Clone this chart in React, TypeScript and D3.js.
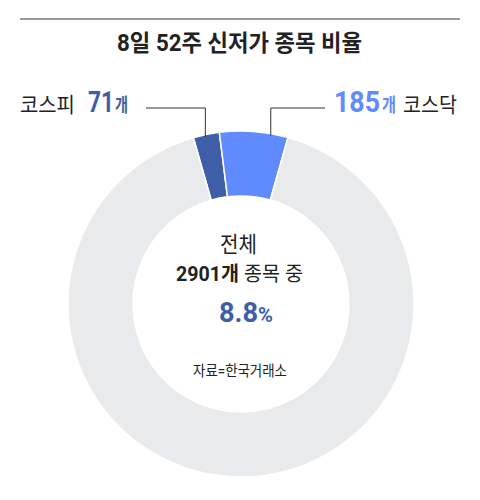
import React, { useLayoutEffect, useRef } from 'react';
import * as d3 from 'd3';

// 8일 52주 신저가 종목 (한국거래소)
const markets = ['코스피', '코스닥', '기타'];
const counts = [71, 185, 2645];
const colors = ['#3f5ea8', '#5f8bff', '#e8eaeb'];
const total = 2901;
const shareText = '8.8';
const title = '8일 52주 신저가 종목 비율';
const source = '자료=한국거래소';

const width = 480;
const height = 500;
const cx = 241;
const cy = 304;
const outerR = 173;
const innerR = 108;
const font = "Roboto, 'Noto Sans CJK KR', sans-serif";
const dark = '#222';

type FitProps = {
  x: number;
  y: number;
  len: number;
  anchor?: 'start' | 'middle';
  size?: number;
  bold?: boolean;
  fill?: string;
  children: React.ReactNode;
};

// squeezes the text horizontally to the measured width (condensed face in the original)
const FitText: React.FC<FitProps> = ({ x, y, len, anchor = 'start', size = 20, bold, fill = dark, children }) => {
  const ref = useRef<SVGTextElement>(null);
  useLayoutEffect(() => {
    const el = ref.current;
    if (!el) return;
    el.removeAttribute('transform');
    const natural = el.getComputedTextLength();
    if (natural > 0) {
      const s = len / natural;
      el.setAttribute('transform', `translate(${x} 0) scale(${s} 1) translate(${-x} 0)`);
    }
  });
  return (
    <text
      ref={ref}
      x={x}
      y={y}
      textAnchor={anchor}
      fontFamily={font}
      fontSize={size}
      fontWeight={bold ? 700 : 400}
      fill={fill}
    >
      {children}
    </text>
  );
};

const App: React.FC = () => {
  const pie = d3
    .pie<number>()
    .sort(null)
    .startAngle((-16 * Math.PI) / 180)
    .endAngle((-16 * Math.PI) / 180 + 2 * Math.PI);
  const slices = pie(counts);

  const arc = d3.arc<d3.PieArcDatum<number>>().innerRadius(innerR).outerRadius(outerR);

  // leader anchor on the outer edge of a slice, t = fraction along the slice
  const anchorPt = (i: number, t: number) => {
    const s = slices[i];
    const a = s.startAngle + (s.endAngle - s.startAngle) * t;
    return [cx + (outerR - 2) * Math.sin(a), cy - (outerR - 2) * Math.cos(a)];
  };
  const kospiPt = anchorPt(0, 0.45);
  const kosdaqPt = anchorPt(1, 0.75);
  const leaderY = 108;
  const labelY = 112;

  return (
    <svg width={width} height={height} style={{ position: 'absolute', left: 0, top: 0 }}>
      <rect width={width} height={height} fill="#fff" />
      <line x1={20} x2={460} y1={19} y2={19} stroke="#999" strokeWidth={2} />
      <FitText x={239.5} y={51} len={245} anchor="middle" size={23} bold>
        {title}
      </FitText>

      <g transform={`translate(${cx},${cy})`}>
        {slices.map((s, i) => (
          <path key={markets[i]} d={arc(s) || ''} fill={colors[i]} stroke="#fff" strokeWidth={1.5} />
        ))}
      </g>

      {/* leaders */}
      <polyline
        points={`146,${leaderY} ${kospiPt[0]},${leaderY} ${kospiPt[0]},${kospiPt[1]}`}
        fill="none"
        stroke="#333"
        strokeWidth={1}
      />
      <polyline
        points={`325,${leaderY} ${kosdaqPt[0]},${leaderY} ${kosdaqPt[0]},${kosdaqPt[1]}`}
        fill="none"
        stroke="#333"
        strokeWidth={1}
      />

      <FitText x={20} y={labelY} len={55} size={21}>{markets[0]}</FitText>
      <FitText x={88} y={labelY} len={26} size={30} bold fill={colors[0]}>{counts[0]}</FitText>
      <FitText x={115} y={labelY} len={13} size={19} bold fill={colors[0]}>개</FitText>
      <FitText x={334} y={labelY} len={46} size={30} bold fill={colors[1]}>{counts[1]}</FitText>
      <FitText x={382} y={labelY} len={14} size={19} bold fill={colors[1]}>개</FitText>
      <FitText x={403} y={labelY} len={54} size={21}>{markets[1]}</FitText>

      {/* centre */}
      <FitText x={238.5} y={252} len={37} anchor="middle" size={22}>전체</FitText>
      <FitText x={239.5} y={281} len={127} anchor="middle" size={20}>
        <tspan fontWeight={700}>{total}개</tspan>
        <tspan> 종목 중</tspan>
      </FitText>
      <FitText x={219} y={322} len={54} size={27} bold fill={colors[0]}>
        <tspan>{shareText}</tspan>
        <tspan fontSize={20}>%</tspan>
      </FitText>
      <FitText x={240} y={376} len={94} anchor="middle" size={15}>{source}</FitText>
    </svg>
  );
};

export default App;
